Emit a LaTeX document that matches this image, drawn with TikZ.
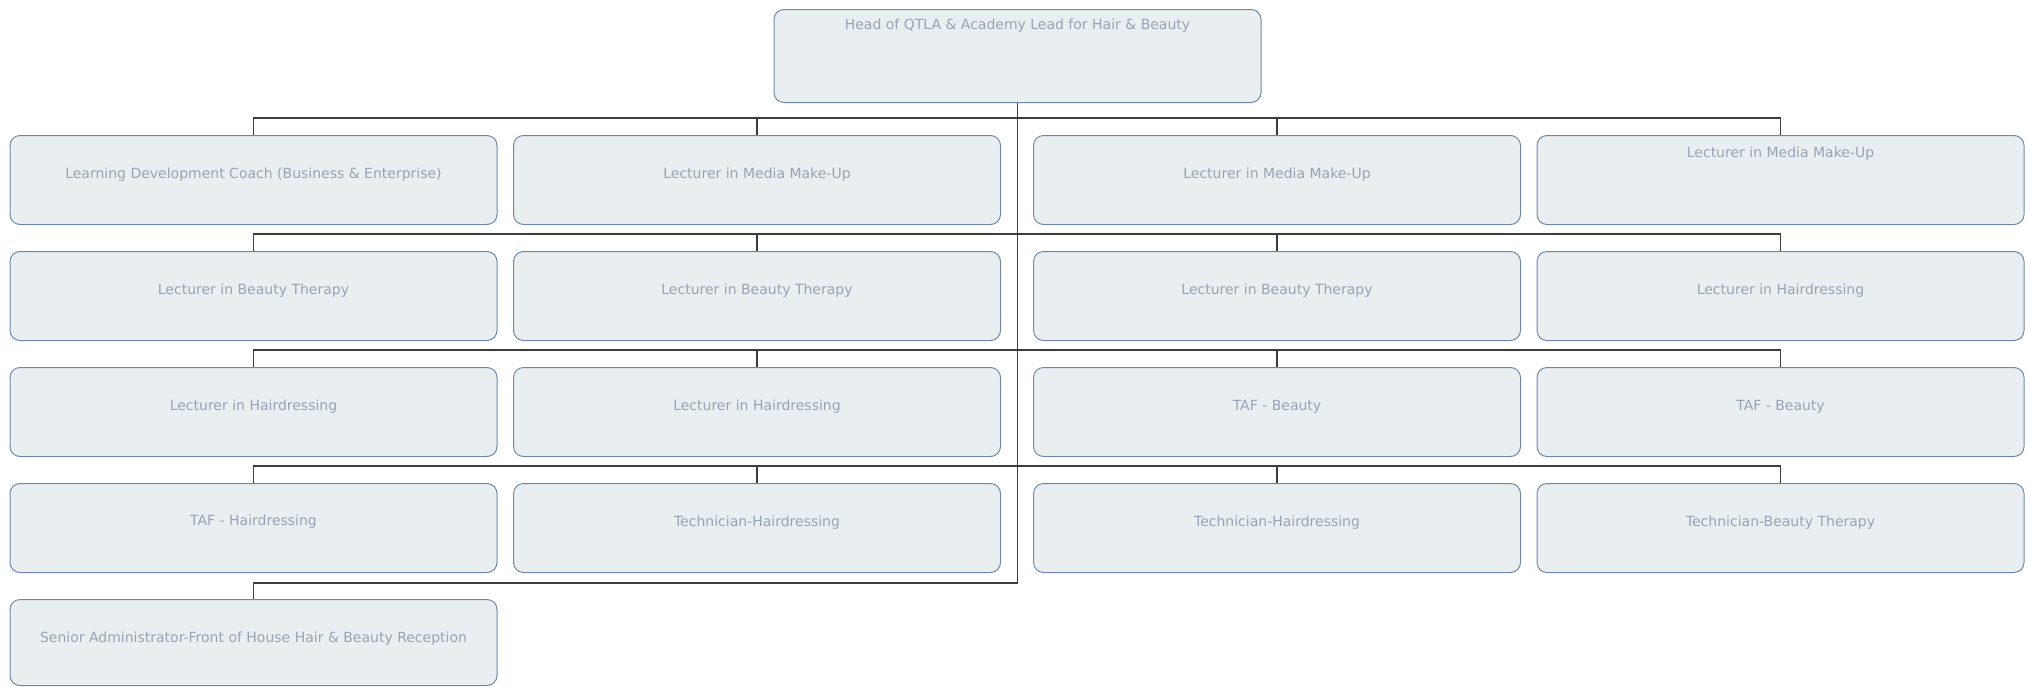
\documentclass[tikz,border=0pt]{standalone}
\usepackage{fontspec}
\setmainfont{DejaVu Sans}
\usetikzlibrary{positioning,calc}
\definecolor{postfill}{HTML}{E9EEF1}
\definecolor{postline}{HTML}{6F88A8}
\definecolor{posttext}{HTML}{98A3B5}
\definecolor{busline}{HTML}{3C3C3C}

\begin{document}
\begin{tikzpicture}[x=0.5pt,y=-0.5pt,
  post/.style={draw=postline,fill=postfill,line width=0.5pt,rounded corners=5pt,
    minimum width=243.5pt,minimum height=44.5pt,inner sep=0pt,anchor=north},
  postlbl/.style={text=posttext,font=\fontsize{7}{8.5}\selectfont,anchor=base,inner sep=0pt},
  bus/.style={draw=busline,line width=0.55pt}]
  \useasboundingbox (0,0) rectangle (2029,686);
  % head
  \node[post,minimum height=46.5pt] (head) at (1017.5,9) {};
  \node[postlbl] (headlbl) at ($(head.north)+(0,20)$) {Head of QTLA \& Academy Lead for Hair \& Beauty};
  % row 1
  \node[post] (coach) at (253.5,135) {};
  \node[post] (mediaA) at (757,135) {};
  \node[post] (mediaB) at (1277,135) {};
  \node[post] (mediaC) at (1780.5,135) {};
  \node[postlbl] (coachlbl) at ($(coach.north)+(0,43)$) {Learning Development Coach (Business \& Enterprise)};
  \node[postlbl] (mediaAlbl) at ($(mediaA.north)+(0,43)$) {Lecturer in Media Make-Up};
  \node[postlbl] (mediaBlbl) at ($(mediaB.north)+(0,43)$) {Lecturer in Media Make-Up};
  \node[postlbl] (mediaClbl) at ($(mediaC.north)+(0,22)$) {Lecturer in Media Make-Up};
  % row 2
  \node[post] (beautyA) at (253.5,251) {};
  \node[post] (beautyB) at (757,251) {};
  \node[post] (beautyC) at (1277,251) {};
  \node[post] (hairA) at (1780.5,251) {};
  \node[postlbl] (beautyAlbl) at ($(beautyA.north)+(0,43)$) {Lecturer in Beauty Therapy};
  \node[postlbl] (beautyBlbl) at ($(beautyB.north)+(0,43)$) {Lecturer in Beauty Therapy};
  \node[postlbl] (beautyClbl) at ($(beautyC.north)+(0,43)$) {Lecturer in Beauty Therapy};
  \node[postlbl] (hairAlbl) at ($(hairA.north)+(0,43)$) {Lecturer in Hairdressing};
  % row 3
  \node[post] (hairB) at (253.5,367) {};
  \node[post] (hairC) at (757,367) {};
  \node[post] (tafA) at (1277,367) {};
  \node[post] (tafB) at (1780.5,367) {};
  \node[postlbl] (hairBlbl) at ($(hairB.north)+(0,43)$) {Lecturer in Hairdressing};
  \node[postlbl] (hairClbl) at ($(hairC.north)+(0,43)$) {Lecturer in Hairdressing};
  \node[postlbl] (tafAlbl) at ($(tafA.north)+(0,43)$) {TAF - Beauty};
  \node[postlbl] (tafBlbl) at ($(tafB.north)+(0,43)$) {TAF - Beauty};
  % row 4
  \node[post] (tafC) at (253.5,483) {};
  \node[post] (techA) at (757,483) {};
  \node[post] (techB) at (1277,483) {};
  \node[post] (techC) at (1780.5,483) {};
  \node[postlbl] (tafClbl) at ($(tafC.north)+(0,42)$) {TAF - Hairdressing};
  \node[postlbl] (techAlbl) at ($(techA.north)+(0,43)$) {Technician-Hairdressing};
  \node[postlbl] (techBlbl) at ($(techB.north)+(0,43)$) {Technician-Hairdressing};
  \node[postlbl] (techClbl) at ($(techC.north)+(0,43)$) {Technician-Beauty Therapy};
  % row 5
  \node[post,minimum height=43pt] (senior) at (253.5,599) {};
  \node[postlbl] (seniorlbl) at ($(senior.north)+(0,43)$) {Senior Administrator-Front of House Hair \& Beauty Reception};
  % connectors
  \draw[bus] (head.south) -- ($(head.south |- senior.north)+(0,-16)$) -| (senior.north);
  \foreach \a/\b/\c/\d in {coach/mediaA/mediaB/mediaC,beautyA/beautyB/beautyC/hairA,
      hairB/hairC/tafA/tafB,tafC/techA/techB/techC} {
    \draw[bus] (\a.north) -- ++(0,-17) -| (\d.north);
    \draw[bus] (\b.north) -- ++(0,-17);
    \draw[bus] (\c.north) -- ++(0,-17);
  }
\end{tikzpicture}
\end{document}
